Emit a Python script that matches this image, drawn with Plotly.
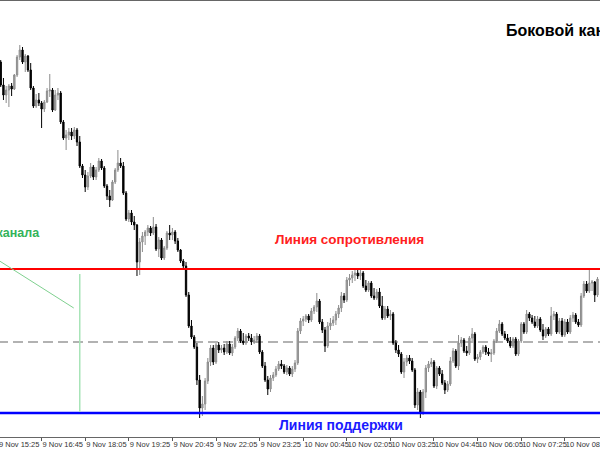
import plotly.graph_objects as go

# 5-minute candles, 9 Nov 15:25 -> 10 Nov 09:45 (arbitrary price units)
open_ = [392,388,365,355,360,364,361,375,393,400,388,394,380,362,344,350,347,341,348,359,
         360,340,355,357,328,312,315,318,314,320,308,284,275,263,274,283,273,280,289,282,
         264,254,250,268,280,287,284,257,231,237,228,225,188,208,214,218,222,217,223,201,
         210,192,202,217,215,218,209,200,189,184,155,124,113,103,70,42,46,69,88,102,
         88,105,100,102,98,106,97,103,112,119,109,107,114,112,108,110,114,98,84,70,
         61,72,75,81,86,84,78,82,76,81,87,119,129,131,134,130,139,143,149,128,
         120,104,124,127,130,136,142,154,150,170,172,175,177,174,177,164,160,167,154,152,
         158,144,132,141,134,136,107,100,96,78,88,92,89,80,45,58,38,58,82,86,
         88,64,82,76,67,60,66,89,99,84,107,110,99,97,112,116,91,93,98,103,
         98,96,97,109,119,126,116,112,109,104,111,96,109,126,118,136,132,128,124,131,
         120,114,121,116,134,136,118,129,115,128,118,132,135,128,125,154,166,159,167,168,
         155]
high = [395,390,372,364,366,367,376,395,405,403,396,395,387,364,356,357,349,350,362,376,
        362,360,362,359,330,320,322,322,323,322,314,286,280,278,287,285,283,292,291,284,
        266,260,270,282,300,292,288,259,240,240,234,226,212,218,220,225,224,233,226,213,
        212,204,219,225,222,220,212,201,191,188,158,130,115,107,75,54,72,92,105,105,
        107,108,105,106,109,109,106,114,122,121,117,116,117,116,114,117,116,100,88,74,
        75,78,84,89,90,86,85,84,84,90,122,132,134,136,136,142,145,157,151,131,
        123,128,132,134,139,145,158,157,173,176,179,180,180,180,179,170,169,169,162,161,
        162,154,144,144,140,138,110,105,98,92,95,95,92,82,62,60,61,85,89,92,
        90,84,84,80,70,69,93,102,101,115,113,112,104,114,122,118,96,100,105,105,
        102,101,111,122,130,128,119,116,113,113,113,111,128,128,140,138,135,134,134,133,
        126,123,123,143,139,138,132,132,131,131,135,138,137,131,157,169,169,181,170,169,
        173]
low = [386,363,350,347,343,354,360,373,390,386,378,378,360,342,342,344,322,338,347,353,
       338,339,350,326,310,300,310,310,311,304,282,272,258,260,272,270,270,278,280,262,
       250,243,249,266,278,282,255,229,228,225,220,174,175,198,205,214,214,215,199,193,
       190,190,200,210,210,206,198,187,180,153,122,111,101,65,32,34,40,66,84,85,
       86,97,97,95,96,95,94,101,109,107,105,105,109,105,106,107,96,82,68,55,
       58,69,73,79,81,76,75,74,73,78,85,116,124,128,127,128,136,138,126,117,
       98,102,120,124,125,132,138,147,148,164,167,169,171,170,162,158,158,152,150,150,
       142,130,130,132,130,105,97,93,76,72,84,86,78,42,40,32,35,52,78,83,
       62,61,74,65,56,58,64,87,82,80,103,97,94,95,109,89,87,90,96,95,
       94,88,95,107,117,114,110,107,102,102,94,94,107,116,116,129,126,122,122,118,
       110,112,114,114,130,116,116,113,113,116,116,128,126,123,123,152,157,157,159,148,
       153]
close = [388,365,355,360,364,361,375,393,400,388,394,380,362,344,350,347,341,348,359,360,
         340,355,357,328,312,315,318,314,320,308,284,275,263,274,283,273,280,289,282,264,
         254,250,268,280,287,284,257,231,237,228,225,188,208,214,218,222,217,223,201,210,
         192,202,217,215,218,209,200,189,184,155,124,113,103,70,42,46,69,88,102,88,
         105,100,102,98,106,97,103,112,119,109,107,114,112,108,110,114,98,84,70,61,
         72,75,81,86,84,78,82,76,81,87,119,129,131,134,130,139,143,149,128,120,
         104,124,127,130,136,142,154,150,170,172,175,177,174,177,164,160,167,154,152,158,
         144,132,141,134,136,107,100,96,78,88,92,89,80,45,58,38,58,82,86,88,
         64,82,76,67,60,66,89,99,84,107,110,99,97,112,116,91,93,98,103,98,
         96,97,109,119,126,116,112,109,104,111,96,109,126,118,136,132,128,124,131,120,
         114,121,116,134,136,118,129,115,128,118,132,135,128,125,154,166,159,167,168,155,
         171]
candle_idx = list(range(len(close)))

tick_idx = [0, 16, 32, 48, 64, 80, 96, 112, 128, 144, 160, 176, 192, 208]
tick_text = ["9 Nov 15:25", "9 Nov 16:45", "9 Nov 18:05", "9 Nov 19:25", "9 Nov 20:45",
             "9 Nov 22:05", "9 Nov 23:25", "10 Nov 00:45", "10 Nov 02:05", "10 Nov 03:25",
             "10 Nov 04:45", "10 Nov 06:05", "10 Nov 07:25", "10 Nov 08:45"]

resistance = 181
support = 37
midline = 108
width_marker_idx = 30
pointer_start = (0.0, 190)
pointer_end = (27.8, 142)

fig = go.Figure(go.Candlestick(
    x=candle_idx, open=open_, high=high, low=low, close=close,
    increasing=dict(line=dict(color="#8c8c8c", width=1), fillcolor="#a6a6a6"),
    decreasing=dict(line=dict(color="#000000", width=1), fillcolor="#000000"),
    hoverinfo="skip", showlegend=False,
))

shapes = [
    dict(type="line", xref="paper", x0=0, x1=1, yref="y", y0=midline, y1=midline,
         line=dict(color="#999999", width=1.5, dash="10px,5px"), layer="below"),
    dict(type="line", xref="paper", x0=0, x1=1, yref="y", y0=resistance, y1=resistance,
         line=dict(color="#ff0000", width=2)),
    dict(type="line", xref="paper", x0=0, x1=1, yref="y", y0=support, y1=support,
         line=dict(color="#0000ff", width=2.5)),
    dict(type="line", xref="x", yref="y", x0=width_marker_idx, x1=width_marker_idx,
         y0=support + 1, y1=176, line=dict(color="#a8e4b8", width=1.5)),
    dict(type="line", xref="x", yref="y", x0=pointer_start[0], y0=pointer_start[1],
         x1=pointer_end[0], y1=pointer_end[1], line=dict(color="#7fd08f", width=1)),
]

font_family = "Liberation Sans, Arial, sans-serif"
annotations = [
    dict(xref="x", yref="y", x=185.6, y=420, text="Боковой канал", showarrow=False,
         xanchor="left", yanchor="middle",
         font=dict(family=font_family, size=16, color="#000000", weight="bold")),
    dict(xref="x", yref="y", x=129.1, y=211, text="Линия сопротивления", showarrow=False,
         xanchor="center", yanchor="middle",
         font=dict(family=font_family, size=13.5, color="#ff2020", weight="bold")),
    dict(xref="x", yref="y", x=125.8, y=25, text="Линия поддержки", showarrow=False,
         xanchor="center", yanchor="middle",
         font=dict(family=font_family, size=14, color="#1a1aff", weight="bold")),
    dict(xref="x", yref="y", x=16.3, y=217, text="Ширина канала", showarrow=False,
         xanchor="right", yanchor="middle",
         font=dict(family=font_family, size=12.5, color="#33b35a", weight="bold")),
]

fig.update_layout(
    width=602, height=450,
    margin=dict(l=0, r=0, t=1, b=13, autoexpand=False),
    paper_bgcolor="#ffffff", plot_bgcolor="#ffffff",
    shapes=shapes, annotations=annotations,
    hovermode=False,
    xaxis=dict(
        range=[0, 220.92], rangeslider=dict(visible=False),
        tickmode="array", tickvals=tick_idx, ticktext=tick_text,
        ticks="outside", ticklen=3, tickcolor="#555555", tickwidth=1,
        tickangle=0, automargin=False,
        ticklabelposition="outside right", ticklabeloverflow="allow",
        tickfont=dict(family=font_family, size=7.5, color="#333333"),
        showgrid=False, zeroline=False,
        showline=True, mirror=True, linecolor="#666666", linewidth=1,
    ),
    yaxis=dict(range=[13, 449], showticklabels=False, showgrid=False, zeroline=False,
               ticks="", showline=False, automargin=False),
)

fig.write_html(
    "out.html",
    config={"displayModeBar": False, "staticPlot": True},
    post_script="document.body.style.margin='0px 0px 0px -2px';document.body.style.overflow='hidden';",
)
